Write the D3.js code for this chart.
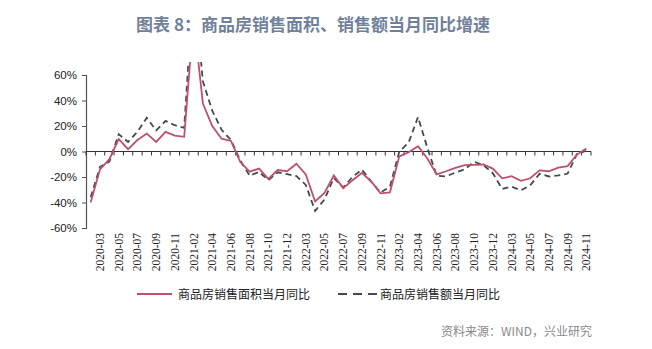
<!DOCTYPE html>
<html>
<head>
<meta charset="utf-8">
<script src="https://cdn.jsdelivr.net/npm/d3@7"></script>
<style>
  html, body { margin: 0; padding: 0; background: #fff; }
  svg { display: block; }
</style>
</head>
<body>
<svg id="chart" width="652" height="349"></svg>
<script>
// Monthly categories (January is merged into February in the source statistics)
const months = [
  "2020-02","2020-03","2020-04","2020-05","2020-06","2020-07","2020-08","2020-09","2020-10","2020-11","2020-12",
  "2021-02","2021-03","2021-04","2021-05","2021-06","2021-07","2021-08","2021-09","2021-10","2021-11","2021-12",
  "2022-02","2022-03","2022-04","2022-05","2022-06","2022-07","2022-08","2022-09","2022-10","2022-11","2022-12",
  "2023-02","2023-03","2023-04","2023-05","2023-06","2023-07","2023-08","2023-09","2023-10","2023-11","2023-12",
  "2024-02","2024-03","2024-04","2024-05","2024-06","2024-07","2024-08","2024-09","2024-10","2024-11"
];

// 商品房销售面积当月同比 (%)
const areaYoY = [
  -39.9, -14.0, -6.0, 9.7, 1.8, 9.0, 14.1, 7.5, 15.4, 12.5, 11.5,
  104.9, 37.6, 20.0, 10.0, 8.3, -8.3, -15.8, -13.4, -21.5, -14.5, -15.5,
  -9.6, -18.0, -39.2, -32.5, -18.8, -28.7, -22.5, -16.8, -23.5, -32.8, -32.0,
  -3.8, -0.5, 4.2, -5.5, -18.0, -15.5, -12.8, -10.7, -10.5, -10.2, -13.4,
  -21.0, -19.4, -23.0, -21.0, -14.8, -15.5, -12.6, -11.5, -2.4, 2.3
];

// 商品房销售额当月同比 (%)
const salesYoY = [
  -35.9, -12.0, -8.0, 13.6, 7.5, 15.5, 26.5, 16.5, 24.0, 20.6, 18.5,
  133.4, 55.0, 32.0, 17.0, 9.0, -7.0, -19.0, -16.0, -22.5, -16.3, -17.8,
  -19.3, -26.2, -46.6, -37.7, -20.8, -28.2, -19.9, -14.2, -23.7, -32.2, -27.6,
  -0.1, 7.0, 27.0, 3.0, -19.0, -19.5, -16.5, -14.0, -8.0, -10.7, -17.0,
  -29.3, -27.6, -30.5, -26.5, -17.5, -19.6, -18.8, -17.3, -2.0, 0.6
];

const yTicks = [-60, -40, -20, 0, 20, 40, 60];
const titleText = "图表 8：商品房销售面积、销售额当月同比增速";
const seriesNames = ["商品房销售面积当月同比", "商品房销售额当月同比"];
const sourceText = "资料来源：WIND，兴业研究";

const svg = d3.select("#chart");
const plot = { left: 86, right: 591, top: 75, bottom: 228 };

const x = d3.scaleBand().domain(months).range([plot.left, plot.right]).paddingInner(0).paddingOuter(0);
const y = d3.scaleLinear().domain([-60, 60]).range([plot.bottom, plot.top]);
const cx = d => x(d) + x.bandwidth() / 2;

// Title
svg.append("text")
  .attr("x", 313).attr("y", 31)
  .attr("text-anchor", "middle")
  .attr("font-family", "'Noto Sans CJK SC', sans-serif")
  .attr("font-weight", "bold")
  .attr("font-size", 17)
  .attr("fill", "#71819a")
  .text(titleText);

// Clip so the 2021 spike is cut just above the axis top
svg.append("defs").append("clipPath").attr("id", "plotClip")
  .append("rect")
  .attr("x", plot.left).attr("y", plot.top - 13)
  .attr("width", plot.right - plot.left + 10)
  .attr("height", plot.bottom - plot.top + 40);

// Y axis
const yAxis = svg.append("g")
  .attr("transform", `translate(${plot.left},0)`)
  .call(d3.axisLeft(y).tickValues(yTicks).tickSize(4).tickFormat(d => d + "%"));
yAxis.select(".domain").attr("stroke", "#555").attr("stroke-width", 1.2);
yAxis.selectAll(".tick line").attr("stroke", "#555");
yAxis.selectAll(".tick text")
  .attr("x", -9)
  .attr("font-family", "'Liberation Sans', Arial, sans-serif")
  .attr("font-size", 11.5)
  .attr("fill", "#222");

// X axis on the zero line, ticks at every category boundary
const boundaries = months.map(m => x(m)).concat([plot.right]);
const xAxis = svg.append("g");
xAxis.append("line")
  .attr("x1", plot.left).attr("x2", plot.right)
  .attr("y1", y(0)).attr("y2", y(0))
  .attr("stroke", "#333").attr("stroke-width", 1.2);
xAxis.selectAll("line.tk").data(boundaries).join("line")
  .attr("class", "tk")
  .attr("x1", d => d).attr("x2", d => d)
  .attr("y1", y(0)).attr("y2", y(0) + 4)
  .attr("stroke", "#333").attr("stroke-width", 1);

// Month labels below the plot, every other category
svg.append("g").selectAll("text")
  .data(months.filter((m, i) => i % 2 === 1))
  .join("text")
  .attr("transform", d => `translate(${cx(d) + 4},${plot.bottom + 5}) rotate(-90)`)
  .attr("text-anchor", "end")
  .attr("font-family", "'Liberation Serif', 'Times New Roman', serif")
  .attr("font-size", 11.5)
  .attr("fill", "#222")
  .text(d => d);

// Series lines
const line = d3.line().x((d, i) => cx(months[i])).y(d => y(d));
const lines = svg.append("g").attr("clip-path", "url(#plotClip)");
lines.append("path")
  .datum(salesYoY)
  .attr("d", line)
  .attr("fill", "none")
  .attr("stroke", "#3f4b57")
  .attr("stroke-width", 1.8)
  .attr("stroke-dasharray", "6,4");
lines.append("path")
  .datum(areaYoY)
  .attr("d", line)
  .attr("fill", "none")
  .attr("stroke", "#c0506a")
  .attr("stroke-width", 1.8);

// Legend
const legend = svg.append("g");
legend.append("line")
  .attr("x1", 137).attr("x2", 172).attr("y1", 294).attr("y2", 294)
  .attr("stroke", "#c0506a").attr("stroke-width", 2);
legend.append("text")
  .attr("x", 178).attr("y", 298.5)
  .attr("font-family", "'Noto Sans CJK SC', sans-serif")
  .attr("font-size", 12).attr("fill", "#222")
  .text(seriesNames[0]);
legend.append("line")
  .attr("x1", 338).attr("x2", 377).attr("y1", 294).attr("y2", 294)
  .attr("stroke", "#3f4b57").attr("stroke-width", 2)
  .attr("stroke-dasharray", "9,6");
legend.append("text")
  .attr("x", 380).attr("y", 298.5)
  .attr("font-family", "'Noto Sans CJK SC', sans-serif")
  .attr("font-size", 12).attr("fill", "#222")
  .text(seriesNames[1]);

// Source note
svg.append("text")
  .attr("x", 592).attr("y", 336)
  .attr("text-anchor", "end")
  .attr("font-family", "'Noto Sans CJK SC', sans-serif")
  .attr("font-size", 12).attr("fill", "#8a8a8a")
  .text(sourceText);
</script>
</body>
</html>
